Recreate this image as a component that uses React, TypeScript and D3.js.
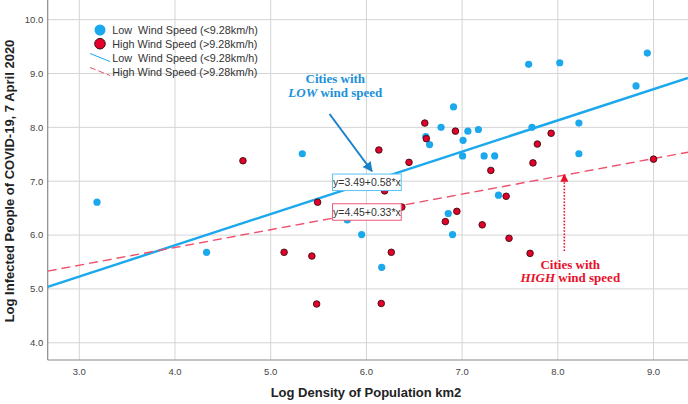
import React from "react";
import * as d3 from "d3";

const W = 688;
const H = 404;

// Low wind speed cities (blue)
const lowX = [3.185, 4.33, 5.33, 5.80, 5.95, 6.16, 6.62, 6.66, 6.78, 6.855, 6.90, 6.91, 7.005, 7.01, 7.06, 7.17, 7.23, 7.34, 7.38, 7.695, 7.73, 8.02, 8.22, 8.22, 8.817, 8.935];
const lowY = [6.61, 5.68, 7.51, 6.28, 6.01, 5.40, 7.83, 7.68, 8.00, 6.40, 6.01, 8.38, 7.47, 7.76, 7.93, 7.96, 7.47, 7.47, 6.74, 9.17, 8.00, 9.20, 8.08, 7.51, 8.77, 9.38];
// High wind speed cities (red)
const highX = [4.71, 5.14, 5.43, 5.48, 5.49, 6.13, 6.155, 6.19, 6.26, 6.37, 6.445, 6.61, 6.626, 6.825, 6.93, 6.945, 7.21, 7.30, 7.46, 7.49, 7.71, 7.74, 7.786, 7.93, 9.0];
const highY = [7.38, 5.68, 5.61, 4.72, 6.61, 7.58, 4.73, 6.82, 5.68, 6.52, 7.35, 8.08, 7.79, 6.25, 7.93, 6.44, 6.19, 7.20, 6.72, 5.94, 5.66, 7.34, 7.69, 7.89, 7.41];

// Fit lines: intercept, slope
const lowFit = [3.49, 0.58];
const highFit = [4.45, 0.33];
const fitLabels = ["y=3.49+0.58*x", "y=4.45+0.33*x"];

const xTicks = [3, 4, 5, 6, 7, 8, 9];
const yTicks = [4, 5, 6, 7, 8, 9, 10];
const legendLabels = [
  "Low  Wind Speed (<9.28km/h)",
  "High Wind Speed (>9.28km/h)",
  "Low  Wind Speed (<9.28km/h)",
  "High Wind Speed (>9.28km/h)",
];

const BLUE = "#1ba8ec";
const RED = "#e3002b";
const RED_LINE = "#f0506c";
const SANS = "'Liberation Sans', Arial, sans-serif";
const SERIF = "'Liberation Serif', 'Times New Roman', serif";

export default function App() {
  const left = 47.7;
  const right = 688;
  const top = 0;
  const bottom = 360;
  const x = d3.scaleLinear().domain([2.67, 9.36]).range([left, right]);
  const y = d3.scaleLinear().domain([3.68, 10.365]).range([bottom, top]);

  const xd = x.domain();
  const fitLine = (f: number[]) =>
    d3.line<number>().x((v) => x(v)).y((v) => y(f[0] + f[1] * v))(xd) || "";

  const lowPts = lowX.map((v, i) => [v, lowY[i]]);
  const highPts = highX.map((v, i) => [v, highY[i]]);

  const fmt = d3.format(".1f");

  // annotation anchors (data coordinates)
  const lowArrow = { x1: 5.615, y1: 8.248, x2: 6.058, y2: 7.185 };
  const highArrow = { x: 8.068, y1: 5.704, y2: 7.124 };

  const lblCx = x(6.005);
  const lblW = 68.7;
  const lblH = 16.5;
  const blueLblCy = 182.3;
  const redLblCy = 212;

  return (
    <svg
      width={W}
      height={H}
      style={{ position: "absolute", left: 0, top: 0, background: "#fff" }}
    >
      <defs>
        <marker id="arrB" viewBox="0 0 10 10" refX="9" refY="5" markerWidth="5" markerHeight="5" orient="auto">
          <path d="M0,0 L10,5 L0,10 z" fill="#1a80c8" />
        </marker>
        <marker id="arrR" viewBox="0 0 10 10" refX="9" refY="5" markerWidth="5" markerHeight="5" orient="auto">
          <path d="M0,0 L10,5 L0,10 z" fill="#e8102a" />
        </marker>
        <clipPath id="plotClip">
          <rect x={left} y={top} width={right - left} height={bottom - top} />
        </clipPath>
      </defs>

      {/* grid */}
      {xTicks.map((t) => (
        <line key={"gx" + t} x1={x(t)} x2={x(t)} y1={top} y2={bottom} stroke="#d4d4d4" strokeWidth={1} />
      ))}
      {yTicks.map((t) => (
        <line key={"gy" + t} x1={left} x2={right} y1={y(t)} y2={y(t)} stroke="#d4d4d4" strokeWidth={1} />
      ))}

      {/* axes */}
      <line x1={left} x2={left} y1={top} y2={bottom} stroke="#8a8a8a" strokeWidth={1.2} />
      <line x1={left} x2={right} y1={bottom} y2={bottom} stroke="#8a8a8a" strokeWidth={1.2} />

      {xTicks.map((t) => (
        <text key={"tx" + t} x={x(t)} y={374.5} textAnchor="middle" fontFamily={SANS} fontSize={9.5} fill="#444">
          {fmt(t)}
        </text>
      ))}
      {yTicks.map((t) => (
        <text key={"ty" + t} x={43.3} y={y(t) + 3.4} textAnchor="end" fontFamily={SANS} fontSize={9.5} fill="#444">
          {fmt(t)}
        </text>
      ))}

      <text x={366} y={397} textAnchor="middle" fontFamily={SANS} fontSize={13} fontWeight="bold" fill="#222">
        Log Density of Population km2
      </text>
      <text
        transform={`translate(13.5,181) rotate(-90)`}
        textAnchor="middle"
        fontFamily={SANS}
        fontSize={13}
        fontWeight="bold"
        fill="#222"
      >
        Log Infected People of COVID-19, 7 April 2020
      </text>

      <g clipPath="url(#plotClip)">
        {/* fit lines */}
        <path d={fitLine(lowFit)} fill="none" stroke={BLUE} strokeWidth={2.4} />
        <path d={fitLine(highFit)} fill="none" stroke={RED_LINE} strokeWidth={1.4} strokeDasharray="9,5" />

        {/* points */}
        {lowPts.map((p, i) => (
          <circle key={"l" + i} cx={x(p[0])} cy={y(p[1])} r={3.6} fill={BLUE} />
        ))}
        {highPts.map((p, i) => (
          <circle key={"h" + i} cx={x(p[0])} cy={y(p[1])} r={3.3} fill={RED} stroke="#3a1010" strokeWidth={0.9} />
        ))}
      </g>

      {/* fit labels */}
      <rect x={lblCx - lblW / 2} y={blueLblCy - lblH / 2} width={lblW} height={lblH} fill="#fff" stroke="#5cc3f2" strokeWidth={1} />
      <text x={lblCx} y={blueLblCy + 3.8} textAnchor="middle" fontFamily={SANS} fontSize={10.5} fill="#333">
        {fitLabels[0]}
      </text>
      <rect x={lblCx - lblW / 2} y={redLblCy - lblH / 2} width={lblW} height={lblH} fill="#fff" stroke="#ec5a76" strokeWidth={1} />
      <text x={lblCx} y={redLblCy + 3.8} textAnchor="middle" fontFamily={SANS} fontSize={10.5} fill="#333">
        {fitLabels[1]}
      </text>

      {/* LOW annotation */}
      <text x={x(5.675)} y={83} textAnchor="middle" fontFamily={SERIF} fontSize={13} fontWeight="bold" fill="#1a90d8">
        Cities with
      </text>
      <text x={x(5.675)} y={97} textAnchor="middle" fontFamily={SERIF} fontSize={13} fontWeight="bold" fill="#1a90d8">
        <tspan fontStyle="italic">LOW</tspan> wind speed
      </text>
      <line
        x1={x(lowArrow.x1)}
        y1={y(lowArrow.y1)}
        x2={x(lowArrow.x2)}
        y2={y(lowArrow.y2)}
        stroke="#1a80c8"
        strokeWidth={2}
        markerEnd="url(#arrB)"
      />

      {/* HIGH annotation */}
      <line
        x1={x(highArrow.x)}
        y1={y(highArrow.y1)}
        x2={x(highArrow.x)}
        y2={y(highArrow.y2)}
        stroke="#e8102a"
        strokeWidth={1.6}
        strokeDasharray="1.6,1.6"
        markerEnd="url(#arrR)"
      />
      <text x={x(8.13)} y={268.5} textAnchor="middle" fontFamily={SERIF} fontSize={13} fontWeight="bold" fill="#e8102a">
        Cities with
      </text>
      <text x={x(8.13)} y={282} textAnchor="middle" fontFamily={SERIF} fontSize={13} fontWeight="bold" fill="#e8102a">
        <tspan fontStyle="italic">HIGH</tspan> wind speed
      </text>

      {/* legend */}
      <circle cx={100} cy={30} r={5.5} fill={BLUE} />
      <circle cx={100} cy={43.7} r={5.3} fill={RED} stroke="#3a1010" strokeWidth={1} />
      <line x1={90} y1={53.5} x2={110} y2={61.5} stroke={BLUE} strokeWidth={1} />
      <line x1={90} y1={67.5} x2={110} y2={75.5} stroke={RED_LINE} strokeWidth={1} strokeDasharray="6,3" />
      {legendLabels.map((l, i) => (
        <text
          key={"lg" + i}
          x={112.3}
          y={[34.3, 47.8, 62.3, 76.3][i]}
          fontFamily={SANS}
          fontSize={10.8}
          fill="#333"
          style={{ whiteSpace: "pre" }}
          xmlSpace="preserve"
        >
          {l}
        </text>
      ))}
    </svg>
  );
}
